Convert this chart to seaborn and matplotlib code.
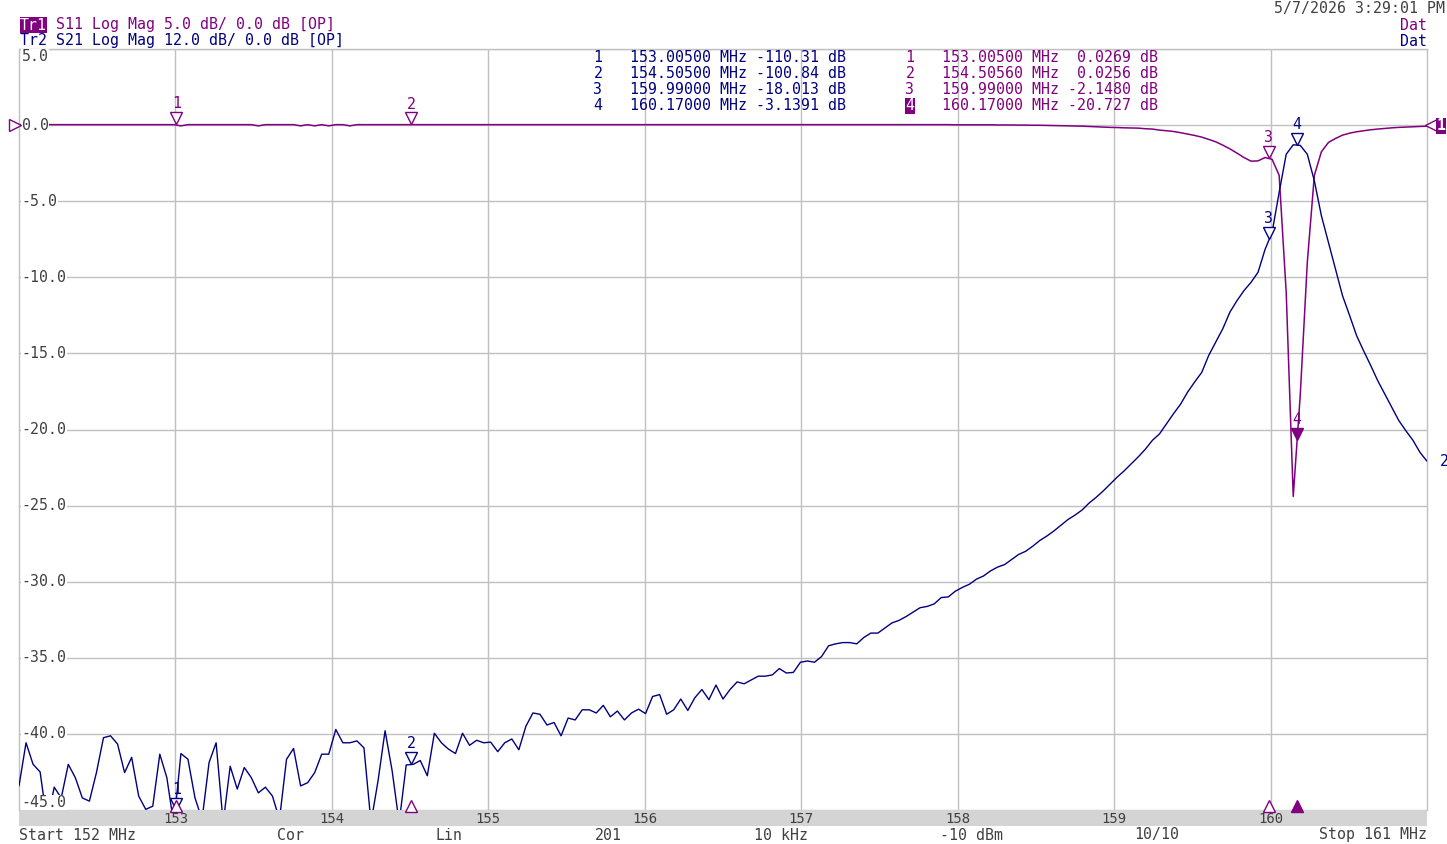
import numpy as np
import matplotlib
matplotlib.use("Agg")
import matplotlib.pyplot as plt
import matplotlib.transforms as mtransforms
from matplotlib.patches import Rectangle
import seaborn as sns

# sweep settings shown in the status bar: Start 152 MHz, Stop 161 MHz, 201 points
start_mhz = 152.0
stop_mhz = 161.0
n_points = 201
freq = np.linspace(start_mhz, stop_mhz, n_points)

# Tr1 - S11 log mag (dB)
s11_db = [
    0.03, 0.03, 0.03, 0.03, 0.03, 0.03, 0.03, 0.03, 0.03, 0.03,
    0.03, 0.03, 0.03, 0.03, 0.03, 0.03, 0.03, 0.03, 0.03, 0.03,
    0.03, 0.03, 0.03, -0.05, 0.03, 0.03, 0.03, 0.03, 0.03, 0.03,
    0.03, 0.03, 0.03, 0.03, -0.05, 0.03, 0.03, 0.03, 0.03, 0.03,
    -0.05, 0.03, -0.05, 0.03, -0.05, 0.03, 0.03, -0.05, 0.03, 0.03,
    0.03, 0.03, 0.03, 0.03, 0.03, 0.03, 0.03, 0.03, 0.03, 0.03,
    0.03, 0.03, 0.03, 0.03, 0.03, 0.03, 0.03, 0.03, 0.03, 0.03,
    0.03, 0.03, 0.03, 0.03, 0.03, 0.03, 0.03, 0.03, 0.03, 0.03,
    0.03, 0.03, 0.03, 0.03, 0.03, 0.03, 0.03, 0.03, 0.03, 0.03,
    0.03, 0.03, 0.03, 0.03, 0.03, 0.03, 0.03, 0.03, 0.03, 0.03,
    0.03, 0.03, 0.03, 0.03, 0.03, 0.03, 0.03, 0.03, 0.03, 0.03,
    0.03, 0.03, 0.03, 0.03, 0.03, 0.03, 0.03, 0.03, 0.03, 0.03,
    0.03, 0.03, 0.03, 0.03, 0.03, 0.03, 0.03, 0.03, 0.03, 0.03,
    0.03, 0.03, 0.03, 0.02, 0.02, 0.02, 0.02, 0.02, 0.02, 0.01,
    0.01, 0.01, 0.0, 0.0, -0.01, -0.01, -0.02, -0.03, -0.04, -0.05,
    -0.06, -0.07, -0.09, -0.11, -0.13, -0.15, -0.16, -0.18, -0.19, -0.2,
    -0.24, -0.26, -0.33, -0.37, -0.42, -0.5, -0.59, -0.68, -0.79, -0.94,
    -1.1, -1.32, -1.56, -1.84, -2.13, -2.37, -2.35, -2.13, -2.25, -3.3,
    -11.0, -24.4, -17.7, -9.0, -3.3, -1.75, -1.14, -0.88, -0.66, -0.53,
    -0.44, -0.37, -0.31, -0.26, -0.22, -0.18, -0.15, -0.13, -0.11, -0.09,
    -0.07,
]

# Tr2 - S21 log mag (dB) (12 dB/div)
s21_db = [
    -104.2, -97.4, -100.8, -102.0, -110.0, -104.4, -106.1, -100.8, -102.9, -106.1,
    -106.6, -102.1, -96.6, -96.3, -97.6, -102.1, -99.7, -105.8, -107.9, -107.4,
    -99.2, -102.9, -110.3, -99.1, -100.0, -106.1, -109.5, -100.5, -97.4, -110.0,
    -101.1, -104.7, -101.3, -102.9, -105.3, -104.4, -105.8, -109.5, -100.0, -98.3,
    -104.2, -103.7, -102.1, -99.2, -99.2, -95.3, -97.4, -97.4, -97.1, -98.2,
    -110.0, -103.4, -95.5, -101.8, -110.0, -100.9, -100.8, -100.2, -102.6, -95.9,
    -97.4, -98.4, -99.1, -95.9, -97.8, -97.0, -97.4, -97.3, -98.8, -97.4,
    -96.8, -98.5, -94.8, -92.7, -92.9, -94.6, -94.2, -96.3, -93.5, -93.8,
    -92.2, -92.2, -92.7, -91.5, -93.3, -92.4, -93.8, -92.7, -92.1, -92.8,
    -90.1, -89.8, -92.9, -92.2, -90.5, -92.3, -90.3, -89.0, -90.6, -88.3,
    -90.5, -89.0, -87.8, -88.1, -87.5, -86.9, -86.9, -86.7, -85.7, -86.4,
    -86.3, -84.7, -84.5, -84.7, -83.8, -82.1, -81.8, -81.6, -81.6, -81.8,
    -80.8, -80.1, -80.1, -79.3, -78.5, -78.1, -77.5, -76.8, -76.1, -75.9,
    -75.5, -74.5, -74.4, -73.5, -72.9, -72.4, -71.6, -71.1, -70.3, -69.7,
    -69.3, -68.5, -67.7, -67.2, -66.4, -65.5, -64.8, -64.0, -63.1, -62.2,
    -61.5, -60.7, -59.6, -58.7, -57.7, -56.6, -55.5, -54.5, -53.4, -52.3,
    -51.1, -49.7, -48.7, -47.1, -45.5, -44.0, -42.1, -40.5, -39.0, -36.3,
    -34.2, -32.1, -29.5, -27.7, -26.1, -24.8, -23.2, -19.6, -16.9, -10.6,
    -4.6, -3.1, -3.2, -4.6, -8.8, -14.3, -18.5, -22.7, -26.9, -30.0,
    -33.2, -35.6, -37.9, -40.3, -42.4, -44.5, -46.6, -48.2, -49.7, -51.6,
    -53.0,
]

# marker readouts
mk_ids = ["1", "2", "3", "4"]
mk_freq_s21 = [153.005, 154.505, 159.99, 160.17]
mk_val_s21 = [-110.31, -100.84, -18.013, -3.1391]
mk_freq_s11 = [153.005, 154.5056, 159.99, 160.17]
mk_val_s11 = [0.0269, 0.0256, -2.148, -20.727]

# axis ticks
y_ticks = [5.0, 0.0, -5.0, -10.0, -15.0, -20.0, -25.0, -30.0, -35.0, -40.0, -45.0]
x_ticks = [153, 154, 155, 156, 157, 158, 159, 160]

# status bar
status_items = ["Cor", "Lin", "201", "10 kHz", "-10 dBm", "10/10"]
status_x = [290, 449, 608, 781, 971, 1157]

purple = "#800080"
navy = "#000080"
grid_c = "#c0c0c0"
txt_c = "#404040"

sns.set_theme(style="white")
plt.rcParams["font.family"] = ["DejaVu Sans Mono", "DejaVu Sans"]

W, H = 1447, 844
fig = plt.figure(figsize=(W / 100, H / 100), dpi=100)
fig.patch.set_facecolor("white")


def fx(x):
    return x / W


def fy(y):
    return 1 - y / H


def vna_fmt(v):
    # 5 significant digits like the analyser readout
    a = abs(v)
    if a >= 100:
        return f"{v:.2f}"
    if a >= 10:
        return f"{v:.3f}"
    return f"{v:.4f}"


ax = fig.add_axes([fx(19), fy(810), fx(1427) - fx(19), fy(49) - fy(810)])

# Tr2 uses 12 dB/div with the same reference position
ax2 = ax.twinx()

sns.lineplot(x=freq, y=s11_db, ax=ax, color=purple, linewidth=1.1)
sns.lineplot(x=freq, y=s21_db, ax=ax2, color=navy, linewidth=1.0)

ax.set_xlim(start_mhz, stop_mhz)
ax.set_ylim(-45, 5)
ax.set_yticks(y_ticks)
ax.set_xticks(x_ticks)
ax.grid(True, color=grid_c, linewidth=1)
ax.set_axisbelow(True)
ax.tick_params(axis="y", which="both", left=False, right=False, length=0, labelleft=False)
ax.tick_params(axis="x", which="both", bottom=False, length=0, labelsize=10,
               labelcolor=txt_c, pad=1.5)
for side in ["top", "left", "right"]:
    ax.spines[side].set_color(grid_c)
    ax.spines[side].set_linewidth(1)
ax.spines["bottom"].set_visible(False)
ax.set_xlabel("")
ax.set_ylabel("")

ax2.set_ylim(-108, 12)
ax2.set_yticks([])
ax2.tick_params(axis="both", which="both", length=0)
ax2.patch.set_visible(False)
for side in ["top", "left", "right", "bottom"]:
    ax2.spines[side].set_visible(False)
ax2.set_ylabel("")

# y labels inside the grid
ylab_tr = mtransforms.blended_transform_factory(ax2.transAxes, ax.transData)
for v in y_ticks:
    va = "center"
    if v == 5.0:
        va = "top"
    elif v == -45.0:
        va = "bottom"
    ax2.text(0.002, v, f"{v:.1f}", transform=ylab_tr, ha="left", va=va,
             fontsize=10.7, color=txt_c,
             bbox=dict(facecolor="white", edgecolor="none", pad=0.3))


# marker triangles on the traces
def draw_markers(axis, freqs, vals, color, lo, filled_last=False):
    tri_tr = mtransforms.offset_copy(axis.transData, fig=fig, y=4.5, units="points")
    for i, (f, v) in enumerate(zip(freqs, vals)):
        v = max(v, lo)
        face = color if (filled_last and i == len(freqs) - 1) else "white"
        axis.plot([f], [v], marker="v", markersize=9, markerfacecolor=face,
                  markeredgecolor=color, markeredgewidth=1, transform=tri_tr,
                  clip_on=False, zorder=6)
        axis.annotate(mk_ids[i], (f, v), xytext=(0, 9.5), textcoords="offset points",
                      ha="center", va="bottom", fontsize=10.7, color=color,
                      annotation_clip=False, zorder=6)


draw_markers(ax, mk_freq_s11, mk_val_s11, purple, -45, filled_last=True)
draw_markers(ax2, mk_freq_s21, mk_val_s21, navy, -108)

# stimulus markers along the bottom edge
bot_tr = mtransforms.offset_copy(
    mtransforms.blended_transform_factory(ax.transData, ax.transAxes),
    fig=fig, y=3.2, units="points")
for i, f in enumerate(mk_freq_s11):
    face = purple if i == len(mk_freq_s11) - 1 else "white"
    ax2.plot([f], [0], marker="^", markersize=8, markerfacecolor=face,
             markeredgecolor=purple, markeredgewidth=1, transform=bot_tr,
             clip_on=False, zorder=7)

# reference position indicators
ref_tr = mtransforms.blended_transform_factory(ax.transAxes, ax.transData)
ax2.plot([-0.0025], [0], marker=">", markersize=9, markerfacecolor="white",
         markeredgecolor=purple, markeredgewidth=1, transform=ref_tr,
         clip_on=False, zorder=7)
ax2.plot([1.0025], [0], marker="<", markersize=9, markerfacecolor="white",
         markeredgecolor=purple, markeredgewidth=1, transform=ref_tr,
         clip_on=False, zorder=7)
fig.text(fx(1441), fy(126), "1", color="white", fontsize=10.7, ha="center", va="center",
         fontweight="bold", bbox=dict(facecolor=purple, edgecolor="none", pad=0.6))
ax2.annotate("2", (stop_mhz, s21_db[-1]), xytext=(9, 0), textcoords="offset points",
             ha="left", va="center", fontsize=10.7, color=navy, annotation_clip=False)

# gray band behind the frequency labels
fig.patches.append(Rectangle((fx(19), fy(826)), fx(1427) - fx(19), fy(810) - fy(826),
                             transform=fig.transFigure, facecolor="#d4d4d4",
                             edgecolor="none", zorder=-1))

# header
fs = 10.7
fig.text(fx(20), fy(25), "Tr1", color="white", fontsize=fs, va="center", ha="left",
         bbox=dict(facecolor=purple, edgecolor="none", pad=0.1))
fig.text(fx(56), fy(25), "S11 Log Mag 5.0 dB/ 0.0 dB [OP]", color=purple,
         fontsize=fs, va="center", ha="left")
fig.text(fx(20), fy(41), "Tr2 S21 Log Mag 12.0 dB/ 0.0 dB [OP]", color=navy,
         fontsize=fs, va="center", ha="left")
fig.text(fx(1445), fy(8), "5/7/2026 3:29:01 PM", color=txt_c, fontsize=fs,
         va="center", ha="right")
fig.text(fx(1427), fy(25), "Dat", color=purple, fontsize=fs, va="center", ha="right")
fig.text(fx(1427), fy(41), "Dat", color=navy, fontsize=fs, va="center", ha="right")

# marker tables
for i in range(4):
    y = fy(58 + 16 * i)
    fig.text(fx(598), y, mk_ids[i], color=navy, fontsize=fs, va="center", ha="center")
    fig.text(fx(630), y, f"{mk_freq_s21[i]:.5f} MHz {vna_fmt(mk_val_s21[i]):>7} dB",
             color=navy, fontsize=fs, va="center", ha="left")
    if i == 3:
        fig.text(fx(910), y, mk_ids[i], color="white", fontsize=fs, va="center",
                 ha="center", bbox=dict(facecolor=purple, edgecolor="none", pad=0.2))
    else:
        fig.text(fx(910), y, mk_ids[i], color=purple, fontsize=fs, va="center", ha="center")
    fig.text(fx(942), y, f"{mk_freq_s11[i]:.5f} MHz {vna_fmt(mk_val_s11[i]):>7} dB",
             color=purple, fontsize=fs, va="center", ha="left")

# status bar
fig.text(fx(19), fy(835), "Start 152 MHz", color=txt_c, fontsize=fs, va="center", ha="left")
for s, x in zip(status_items, status_x):
    fig.text(fx(x), fy(835), s, color=txt_c, fontsize=fs, va="center", ha="center")
fig.text(fx(1427), fy(835), "Stop 161 MHz", color=txt_c, fontsize=fs, va="center", ha="right")

fig.savefig("out.png", dpi=100, facecolor="white")
